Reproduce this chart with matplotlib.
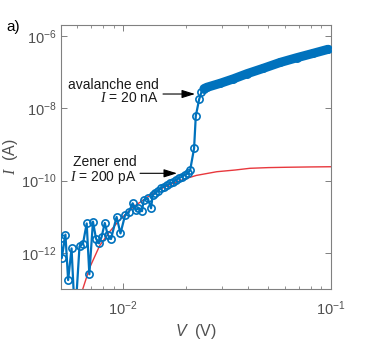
import matplotlib
matplotlib.use("Agg")
import matplotlib.pyplot as plt
from matplotlib.ticker import FixedLocator, NullLocator, LogLocator, LogFormatterSciNotation
import numpy as np

plt.rcParams['font.family'] = ['Liberation Sans', 'DejaVu Sans']
plt.rcParams['mathtext.fontset'] = 'custom'
plt.rcParams['mathtext.rm'] = 'Liberation Sans'
plt.rcParams['mathtext.it'] = 'Liberation Serif:italic'
plt.rcParams['mathtext.sf'] = 'Liberation Sans:italic'
plt.rcParams['axes.unicode_minus'] = False

v_meas = [0.00500, 0.00506, 0.00527, 0.00543, 0.00564, 0.00586, 0.00616, 0.00640,
          0.00667, 0.00687, 0.00715, 0.00740, 0.00764, 0.00787, 0.00815, 0.00842,
          0.00873, 0.00929, 0.00970, 0.01021, 0.01063, 0.01110, 0.01153, 0.01183,
          0.01231, 0.01255, 0.01313, 0.01361, 0.01387, 0.01429, 0.01469, 0.01520,
          0.01570, 0.01625, 0.01680, 0.01740, 0.01795, 0.01855, 0.01920, 0.01980,
          0.02050, 0.02100, 0.02193, 0.02235, 0.02320, 0.02380, 0.02450]
i_meas = [2.6e-12, 7.3e-13, 3.25e-12, 1.8e-13, 1.35e-12, 1.5e-14, 1.54e-12, 1.81e-12,
          6.6e-12, 2.6e-13, 7.4e-12, 2.5e-12, 1.86e-12, 2.8e-12, 6.8e-12, 3.2e-12,
          2.45e-12, 1.0e-11, 3.5e-12, 1.12e-11, 1.34e-11, 2.38e-11, 1.55e-11, 1.73e-11,
          1.44e-11, 2.93e-11, 3.26e-11, 1.73e-11, 4.0e-11, 4.6e-11, 5.2e-11, 6.3e-11,
          6.9e-11, 7.6e-11, 8.4e-11, 9.2e-11, 1.04e-10, 1.18e-10, 1.30e-10, 1.44e-10,
          1.59e-10, 1.97e-10, 7.8e-10, 6.1e-9, 1.77e-8, 2.8e-8, 3.5e-8]

# dense part of the sweep above the avalanche end
v_dense = [0.02450, 0.02530, 0.02930, 0.03390, 0.03940, 0.04720, 0.05700,
           0.06840, 0.08220, 0.09670]
i_dense = [3.5e-8, 3.8e-8, 4.9e-8, 6.5e-8, 9.0e-8, 1.27e-7, 1.85e-7,
           2.49e-7, 3.3e-7, 4.25e-7]

# model curve (red)
v_model = [0.0063, 0.0069, 0.0077, 0.0086, 0.0096, 0.0112, 0.0135, 0.0155, 0.0174,
           0.0195, 0.0225, 0.0282, 0.0345, 0.0407, 0.0500, 0.0612, 0.0800, 0.1000]
i_model = [8e-14, 4e-13, 1.6e-12, 3.9e-12, 8.2e-12, 1.9e-11, 4.0e-11, 6.3e-11, 8.5e-11,
           1.09e-10, 1.4e-10, 1.77e-10, 1.97e-10, 2.2e-10, 2.3e-10, 2.35e-10, 2.4e-10,
           2.43e-10]

y_ticks = [1e-12, 1e-10, 1e-8, 1e-6]

blue = '#0072BD'
red = '#E8383D'
axis_grey = '#808080'
text_grey = '#505050'

fig = plt.figure(figsize=(3.66, 3.40), dpi=100)
ax = fig.add_axes([0.1658, 0.1491, 0.7385, 0.7774])

ax.plot(v_model, i_model, color=red, lw=1.0, zorder=2)
ax.plot(v_dense, i_dense, color=blue, lw=6.6, solid_capstyle='round', zorder=3)
ax.plot(v_meas + v_dense[1:], i_meas + i_dense[1:], color=blue, lw=1.6,
        marker='o', markersize=5.2, markerfacecolor='none', markeredgewidth=1.2, zorder=4)

ax.set_xscale('log')
ax.set_yscale('log')
ax.set_xlim(0.005, 0.1)
ax.set_ylim(1e-13, 2e-6)

ax.yaxis.set_major_locator(FixedLocator(y_ticks))
ax.yaxis.set_major_formatter(LogFormatterSciNotation())
ax.yaxis.set_minor_locator(NullLocator())
ax.xaxis.set_major_locator(LogLocator(base=10))
ax.xaxis.set_minor_locator(LogLocator(base=10, subs=np.arange(2, 10)))
ax.xaxis.set_minor_formatter(plt.NullFormatter())

for s in ax.spines.values():
    s.set_color(axis_grey)
    s.set_linewidth(0.8)
ax.tick_params(which='both', direction='in', top=True, right=True, color=axis_grey,
               labelcolor=text_grey, labelsize=10.5)
ax.tick_params(which='major', length=4, width=0.7)
ax.tick_params(which='minor', length=2.2, width=0.6)
ax.tick_params(axis='x', pad=7)
ax.tick_params(axis='y', pad=3)

ax.set_xlabel(r'$\mathsf{V}$  (V)', fontsize=11.5, color=text_grey, labelpad=3)
ax.set_ylabel(r'$\mathit{I}$  (A)', fontsize=11.5, color=text_grey)
ax.yaxis.set_label_coords(-0.152, 0.5)

arrow = dict(arrowstyle='-|>,head_length=0.8,head_width=0.25', color='black', lw=0.8,
             shrinkA=0, shrinkB=0)
ax.annotate('', xy=(0.02216, 2.48e-8), xytext=(0.01554, 2.48e-8), arrowprops=arrow)
ax.annotate('', xy=(0.01815, 1.6e-10), xytext=(0.01205, 1.6e-10), arrowprops=arrow)
ax.text(0.0149, 2.94e-8, 'avalanche end\n$\\mathit{I}$ = 20 nA', ha='right', va='center',
        multialignment='right', fontsize=10, linespacing=0.95, color='#1a1a1a')
ax.text(0.01164, 1.93e-10, 'Zener end\n$\\mathit{I}$ = 200 pA', ha='right', va='center',
        multialignment='right', fontsize=10, linespacing=0.95, color='#1a1a1a')

fig.text(0.018, 1 - 26.5 / 340, 'a)', fontsize=11, va='center', ha='left')

fig.savefig('out.png', dpi=100)
